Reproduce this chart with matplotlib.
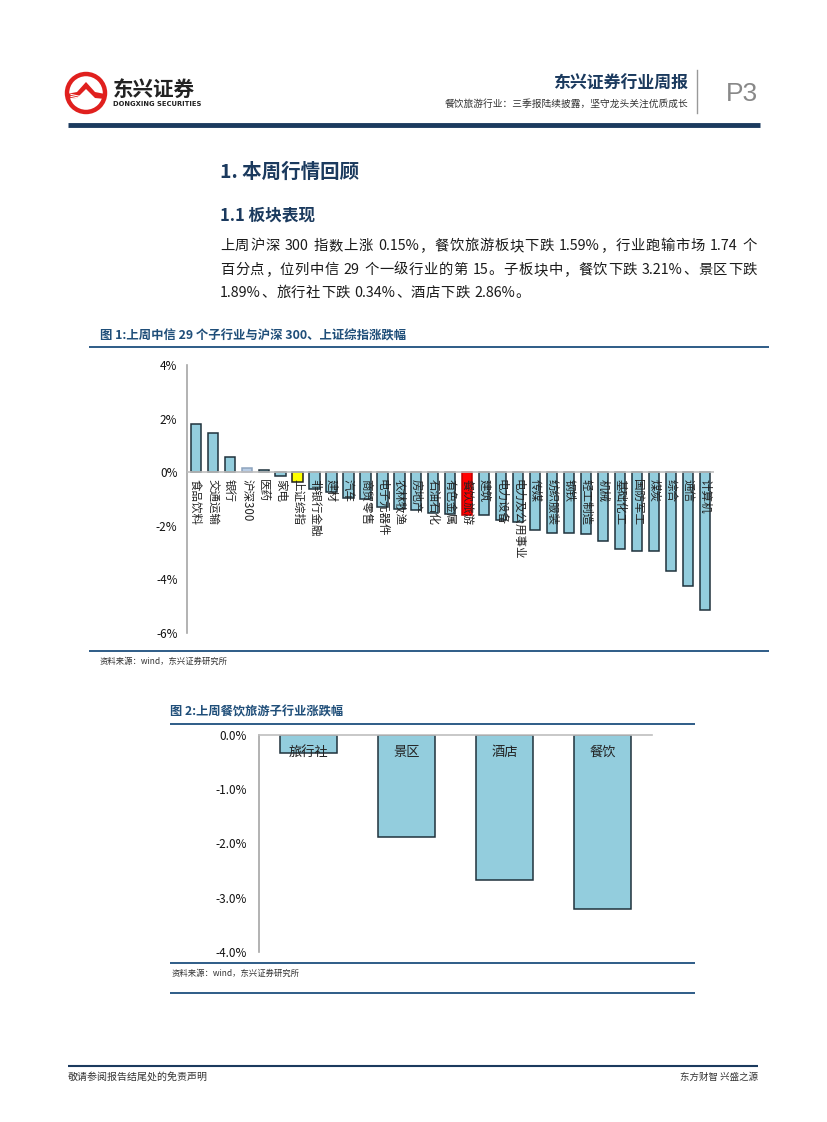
import re
import matplotlib
matplotlib.use("Agg")
import matplotlib.pyplot as plt
from matplotlib.lines import Line2D
from matplotlib.patches import Circle, Polygon

plt.rcParams['font.family'] = ['Noto Sans CJK SC', 'DejaVu Sans']

# ---------------- data ----------------
categories1 = ['食品饮料', '交通运输', '银行', '沪深300', '医药', '家电', '上证综指',
               '非银行金融', '建材', '汽车', '商贸零售', '电子元器件', '农林牧渔', '房地产',
               '石油石化', '有色金属', '餐饮旅游', '建筑', '电力设备', '电力及公用事业',
               '传媒', '纺织服装', '钢铁', '轻工制造', '机械', '基础化工', '国防军工',
               '煤炭', '综合', '通信', '计算机']
values1 = [1.78, 1.48, 0.57, 0.15, 0.08, -0.16, -0.36, -0.61, -0.74, -0.96, -1.01,
           -1.30, -1.38, -1.40, -1.52, -1.57, -1.59, -1.61, -1.80, -1.86, -2.15,
           -2.25, -2.28, -2.31, -2.55, -2.85, -2.93, -2.94, -3.69, -4.26, -5.15]
yticks1 = [4, 2, 0, -2, -4, -6]
ytick_labels1 = ['4%', '2%', '0%', '-2%', '-4%', '-6%']

categories2 = ['旅行社', '景区', '酒店', '餐饮']
values2 = [-0.33, -1.88, -2.67, -3.20]
yticks2 = [0, -1, -2, -3, -4]
ytick_labels2 = ['0.0%', '-1.0%', '-2.0%', '-3.0%', '-4.0%']

para_lines = ['上周沪深 300 指数上涨 0.15%，餐饮旅游板块下跌 1.59%，行业跑输市场 1.74 个',
              '百分点，位列中信 29 个一级行业的第 15。子板块中，餐饮下跌 3.21%、景区下跌',
              '1.89%、旅行社下跌 0.34%、酒店下跌 2.86%。']

# ---------------- page ----------------
W, H = 827, 1122
fig = plt.figure(figsize=(W / 100, H / 100), dpi=100)
fig.patch.set_facecolor('white')

def fx(x):
    return x / W

def fy(y):
    return 1 - y / H

def hline(x0, x1, y, color, lw):
    fig.add_artist(Line2D([fx(x0), fx(x1)], [fy(y), fy(y)], color=color, lw=lw,
                          transform=fig.transFigure, solid_capstyle='butt'))

def vline(x, y0, y1, color, lw):
    fig.add_artist(Line2D([fx(x), fx(x)], [fy(y0), fy(y1)], color=color, lw=lw,
                          transform=fig.transFigure))

def txt(x, y, s, **kw):
    return fig.text(fx(x), fy(y), s, **kw)

NAVY = '#1B3A5E'
TITLE_BLUE = '#1F4E79'

# logo
ax_logo = fig.add_axes([fx(64), fy(115), fx(44) - fx(0), fy(0) - fy(44)])
ax_logo.set_xlim(-1.1, 1.1)
ax_logo.set_ylim(-1.1, 1.1)
ax_logo.set_aspect('equal')
ax_logo.axis('off')
ax_logo.add_patch(Circle((0, 0), 0.95, facecolor='white', edgecolor='#E0201E', lw=3.2))
ax_logo.add_patch(Polygon([(-0.95, -0.05), (-0.45, 0.05), (0.0, 0.55), (0.45, 0.05),
                           (0.95, -0.05), (0.95, -0.3), (0.45, -0.25), (0.0, 0.2),
                           (-0.45, -0.25), (-0.95, -0.3)], closed=True,
                          facecolor='#E0201E', edgecolor='none'))
for k in range(3):
    yy = -0.12 - 0.1 * k
    ax_logo.plot([-0.75, -0.3], [yy + 0.05, yy - 0.05], color='white', lw=0.8)
txt(113, 89, '东兴证券', fontsize=14.8, fontweight='bold', color='#222222', va='center', ha='left')
txt(113, 104, 'DONGXING SECURITIES', fontsize=4.9, fontweight='bold', color='#222222',
    va='center', ha='left', family='DejaVu Sans')

# header right
txt(688, 84, '东兴证券行业周报', fontsize=12.2, fontweight='bold', color=NAVY, ha='right', va='center')
txt(688, 104, '餐饮旅游行业：三季报陆续披露，坚守龙头关注优质成长', fontsize=7.0, color='#333333',
    ha='right', va='center')
vline(697, 70, 113, '#999999', 1.0)
txt(742, 94, 'P3', fontsize=19, color='#888888', ha='center', va='center', family='Liberation Sans')
hline(68, 760, 125, NAVY, 3.5)

# headings
txt(220, 172, '1. 本周行情回顾', fontsize=14, fontweight='bold', color=NAVY, ha='left', va='center')
txt(220, 216, '1.1 板块表现', fontsize=12, fontweight='bold', color=NAVY, ha='left', va='center')

# justified paragraph
renderer = fig.canvas.get_renderer()

def draw_line(x0, x1, y, s, justify, size=10.3):
    tokens = re.findall(r'[A-Za-z0-9.%]+| |\S', s)
    items = []
    for t in tokens:
        if t == ' ':
            items.append((None, 3.5))
            continue
        a = txt(0, y, t, fontsize=size, color='#1a1a1a', ha='left', va='center')
        bb = a.get_window_extent(renderer)
        items.append((a, bb.width))
    total = sum(w for _, w in items)
    n = len(items)
    if justify and n > 1:
        gap = (x1 - x0 - total) / (n - 1)
    else:
        gap = 0.6
    x = x0
    for a, w in items:
        if a is not None:
            a.set_x(fx(x))
        x += w + gap

draw_line(220, 757, 246, para_lines[0], True)
draw_line(220, 757, 270, para_lines[1], True)
draw_line(220, 757, 293, para_lines[2], False)

# ---------------- chart 1 ----------------
txt(100, 336, '图 1:上周中信 29 个子行业与沪深 300、上证综指涨跌幅', fontsize=8.9, fontweight='bold',
    color=TITLE_BLUE, ha='left', va='center')
hline(89, 769, 347, '#2E5C87', 1.4)

ax1 = fig.add_axes([fx(187.2), fy(633), fx(713.5) - fx(187.2), fy(365) - fy(633)])
colors1 = []
edges1 = []
for c in categories1:
    if c == '沪深300':
        colors1.append('#B8CCE4'); edges1.append('#8EA4BE')
    elif c == '上证综指':
        colors1.append('#FFFF00'); edges1.append('#222222')
    elif c == '餐饮旅游':
        colors1.append('#FF0000'); edges1.append('#C00000')
    else:
        colors1.append('#93CDDD'); edges1.append('#1F323C')
x1 = list(range(len(categories1)))
ax1.bar(x1, values1, width=0.6, color=colors1, edgecolor=edges1, linewidth=1.1, zorder=2)
ax1.set_xlim(-0.5, len(categories1) - 0.5)
ax1.set_ylim(-6, 4)
ax1.set_yticks(yticks1)
ax1.set_yticklabels(ytick_labels1, fontsize=8.5, color='#111111')
ax1.tick_params(axis='y', length=0, pad=7)
ax1.set_xticks([])
for s in ['top', 'right', 'bottom']:
    ax1.spines[s].set_visible(False)
ax1.spines['left'].set_color('#A6A6A6')
ax1.spines['left'].set_linewidth(1.2)
ax1.axhline(0, color='#BFBFBF', lw=1.2, zorder=3)
for i, c in enumerate(categories1):
    ax1.text(i, -0.25, c, rotation=270, ha='center', va='top', fontsize=8.3,
             color='#222222', zorder=4)

hline(89, 769, 651, '#2E5C87', 1.4)
txt(100, 661, '资料来源：wind，东兴证券研究所', fontsize=6, style='italic', color='#333333',
    ha='left', va='center')

# ---------------- chart 2 ----------------
txt(170, 712, '图 2:上周餐饮旅游子行业涨跌幅', fontsize=8.8, fontweight='bold',
    color=TITLE_BLUE, ha='left', va='center')
hline(170, 695, 724, '#2E5C87', 1.4)

ax2 = fig.add_axes([fx(259), fy(952), fx(651.5) - fx(259), fy(735) - fy(952)])
x2 = list(range(len(categories2)))
ax2.bar(x2, values2, width=0.58, color='#93CDDD', edgecolor='#1F323C', linewidth=1.1, zorder=2)
ax2.set_xlim(-0.5, len(categories2) - 0.5)
ax2.set_ylim(-4, 0)
ax2.set_yticks(yticks2)
ax2.set_yticklabels(ytick_labels2, fontsize=8.5, color='#111111')
ax2.tick_params(axis='y', length=0, pad=9)
ax2.set_xticks([])
for s in ['top', 'right', 'bottom']:
    ax2.spines[s].set_visible(False)
ax2.spines['left'].set_color('#A6A6A6')
ax2.spines['left'].set_linewidth(1.2)
ax2.axhline(0, color='#BFBFBF', lw=1.2, zorder=3, clip_on=False)
for i, c in enumerate(categories2):
    ax2.text(i, -0.2, c, ha='center', va='top', fontsize=9.5, color='#222222', zorder=4)

hline(170, 695, 963, '#2E5C87', 1.4)
txt(172, 973, '资料来源：wind，东兴证券研究所', fontsize=6, style='italic', color='#333333',
    ha='left', va='center')
hline(170, 695, 993, '#2E5C87', 1.4)

# ---------------- footer ----------------
hline(68, 758, 1066, NAVY, 1.5)
txt(68, 1077, '敬请参阅报告结尾处的免责声明', fontsize=7.2, color='#333333', ha='left', va='center')
txt(758, 1077, '东方财智 兴盛之源', fontsize=6.8, color='#333333', ha='right', va='center')

fig.savefig('out.png', dpi=100, facecolor='white')
